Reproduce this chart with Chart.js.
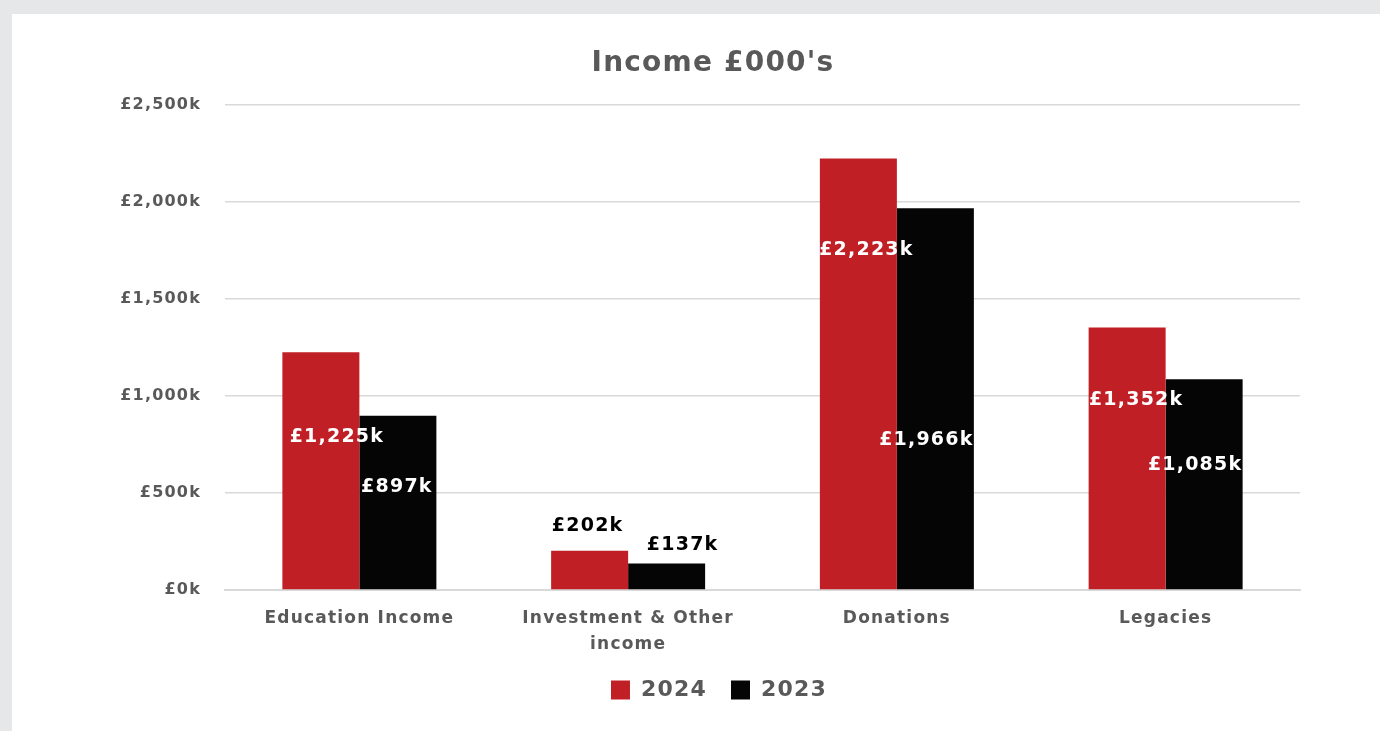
<!DOCTYPE html>
<html>
<head>
<meta charset="utf-8">
<script src="https://cdn.jsdelivr.net/npm/chart.js@4.4.1/dist/chart.umd.min.js"></script>
<style>
  html, body { margin: 0; padding: 0; background: #e6e7e9; width: 1380px; height: 731px; overflow: hidden; }
  #panel { position: absolute; left: 12px; top: 14px; width: 1368px; height: 717px; background: #fff; }
</style>
</head>
<body>
<div id="panel"><canvas id="income-chart" width="1368" height="717"></canvas></div>
<script>
const categories = ["Education Income", ["Investment & Other", "income"], "Donations", "Legacies"];
const values2024 = [1225, 202, 2223, 1352];
const values2023 = [897, 137, 1966, 1085];
const seriesNames = ["2024", "2023"];

const FONT = "'DejaVu Sans', sans-serif";
const GREY = "#595959";

function money(v) {
  return "£" + v.toLocaleString("en-GB") + "k";
}

// the original font is wider than anything installed, so space the letters out a bit
const spacingPlugin = {
  id: "spacing",
  beforeUpdate(chart) { chart.ctx.letterSpacing = "1.2px"; },
  beforeDraw(chart) { chart.ctx.letterSpacing = "1.2px"; }
};

// title and legend sit a little right of the canvas centre in the original
const shiftPlugin = {
  id: "shiftBlocks",
  afterLayout(chart) {
    chart.titleBlock.left += 114;
    chart.legend.left += 126;
  }
};

// labels were hand-placed in the original, so each one gets a nudge from the bar top
const labelPlugin = {
  id: "barLabels",
  afterDatasetsDraw(chart, args, opts) {
    const ctx = chart.ctx;
    ctx.save();
    ctx.font = "bold 19px " + FONT;
    ctx.textAlign = "center";
    ctx.textBaseline = "middle";
    chart.data.datasets.forEach((ds, i) => {
      const meta = chart.getDatasetMeta(i);
      meta.data.forEach((bar, j) => {
        const off = opts.offsets[i][j];
        ctx.fillStyle = off[2];
        ctx.fillText(money(ds.data[j]), bar.x + off[0], bar.y + off[1]);
      });
    });
    ctx.restore();
  }
};

const config = {
  type: "bar",
  data: {
    labels: categories,
    datasets: [
      { label: seriesNames[0], data: values2024, backgroundColor: "#c01f26" },
      { label: seriesNames[1], data: values2023, backgroundColor: "#050505" }
    ]
  },
  options: {
    responsive: false,
    animation: false,
    categoryPercentage: 0.573,
    barPercentage: 1,
    layout: { padding: { left: 0, right: 80, top: 0, bottom: 20 } },
    plugins: {
      title: {
        display: true,
        text: "Income £000's",
        color: GREY,
        font: { family: FONT, size: 28, weight: "bold" },
        padding: { top: 33, bottom: 24 }
      },
      legend: {
        position: "bottom",
        labels: {
          color: GREY,
          boxWidth: 19,
          boxHeight: 19,
          padding: 24,
          font: { family: FONT, size: 22, weight: "bold" }
        }
      },
      tooltip: { enabled: false },
      barLabels: {
        offsets: [
          [[16, 85, "#fff"], [-2, -25, "#000"], [8, 92, "#fff"], [9, 73, "#fff"]],
          [[-1, 71, "#fff"], [16, -18, "#000"], [-9, 232, "#fff"], [-9, 86, "#fff"]]
        ]
      }
    },
    scales: {
      x: {
        grid: { display: false },
        border: { color: "#d9d9d9", width: 2 },
        afterFit(scale) { scale.height -= 10; },
        ticks: { color: GREY, font: { family: FONT, size: 17, weight: "bold", lineHeight: 1.5 }, padding: 8 }
      },
      y: {
        min: 0,
        max: 2500,
        afterFit(scale) { scale.width = 213; },
        grid: { color: "#d9d9d9", lineWidth: 1.5, drawTicks: false },
        border: { display: false },
        ticks: {
          stepSize: 500,
          color: GREY,
          padding: 24,
          font: { family: FONT, size: 16, weight: "bold" },
          callback: v => money(v)
        }
      }
    }
  },
  plugins: [spacingPlugin, shiftPlugin, labelPlugin]
};

const myChart = new Chart(document.getElementById("income-chart"), config);
</script>
</body>
</html>
